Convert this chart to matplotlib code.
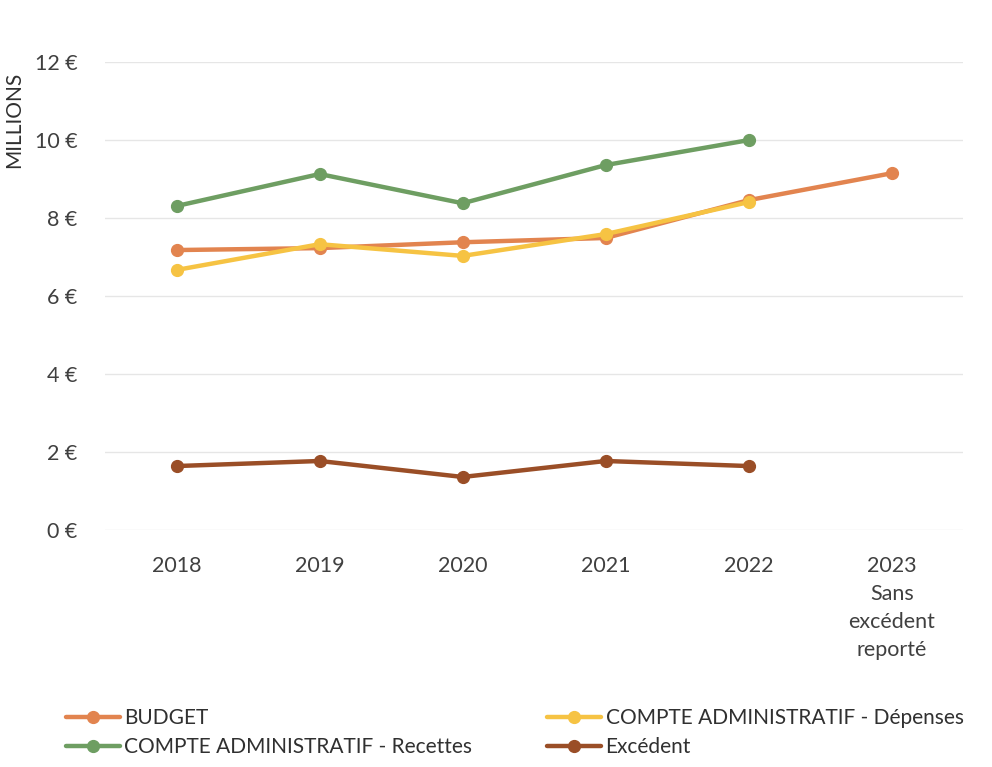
import matplotlib.pyplot as plt
from matplotlib.ticker import FuncFormatter

plt.rcParams['font.family'] = ['Lato', 'DejaVu Sans']

annees = ['2018', '2019', '2020', '2021', '2022', '2023\nSans\nexcédent\nreporté']
budget = [7.18, 7.23, 7.38, 7.49, 8.46, 9.15]
ca_depenses = [6.67, 7.33, 7.03, 7.59, 8.41]
ca_recettes = [8.31, 9.13, 8.38, 9.36, 10.0]
excedent = [1.64, 1.77, 1.36, 1.77, 1.64]

fig = plt.figure(figsize=(9.92, 7.67), dpi=100)
ax = fig.add_axes([0.106, 0.309, 0.865, 0.61])

x = list(range(len(annees)))
kw = dict(lw=3.2, marker='o', ms=8.5, solid_capstyle='round')
l_bud, = ax.plot(x, budget, color='#E2844F', label='BUDGET', zorder=3, **kw)
l_dep, = ax.plot(x[:5], ca_depenses, color='#F6C343', label='COMPTE ADMINISTRATIF - Dépenses', zorder=4, **kw)
l_rec, = ax.plot(x[:5], ca_recettes, color='#6E9E62', label='COMPTE ADMINISTRATIF - Recettes', zorder=3, **kw)
l_exc, = ax.plot(x[:5], excedent, color='#9A4E27', label='Excédent', zorder=3, **kw)

ax.set_xlim(-0.5, 5.5)
ax.set_ylim(0, 12)
ax.set_yticks(range(0, 13, 2))
ax.yaxis.set_major_formatter(FuncFormatter(lambda v, p: f'{v:.0f} €'))
ax.set_xticks(x)
ax.set_xticklabels(annees, linespacing=1.5)
ax.tick_params(length=0, labelsize=15.5, colors='#404040')
ax.tick_params(axis='x', pad=19)
ax.tick_params(axis='y', pad=20)
ax.grid(axis='y', color='#E6E6E6', lw=1)
ax.set_axisbelow(True)
for s in ax.spines.values():
    s.set_visible(False)

fig.text(0.014, 0.906, 'MILLIONS', rotation=90, fontsize=15, color='#303030',
         ha='center', va='top')

# legend filled column by column -> order so rows read BUDGET / Dépenses, Recettes / Excédent
fig.legend([l_bud, l_rec, l_dep, l_exc],
           [l.get_label() for l in (l_bud, l_rec, l_dep, l_exc)],
           loc='upper left', bbox_to_anchor=(0.058, 0.088), ncol=2, frameon=False,
           fontsize=15, handlelength=2.6, handletextpad=0.2, columnspacing=3.6,
           labelspacing=0.45, labelcolor='#303030', borderaxespad=0)

fig.savefig('out.png', dpi=100)
